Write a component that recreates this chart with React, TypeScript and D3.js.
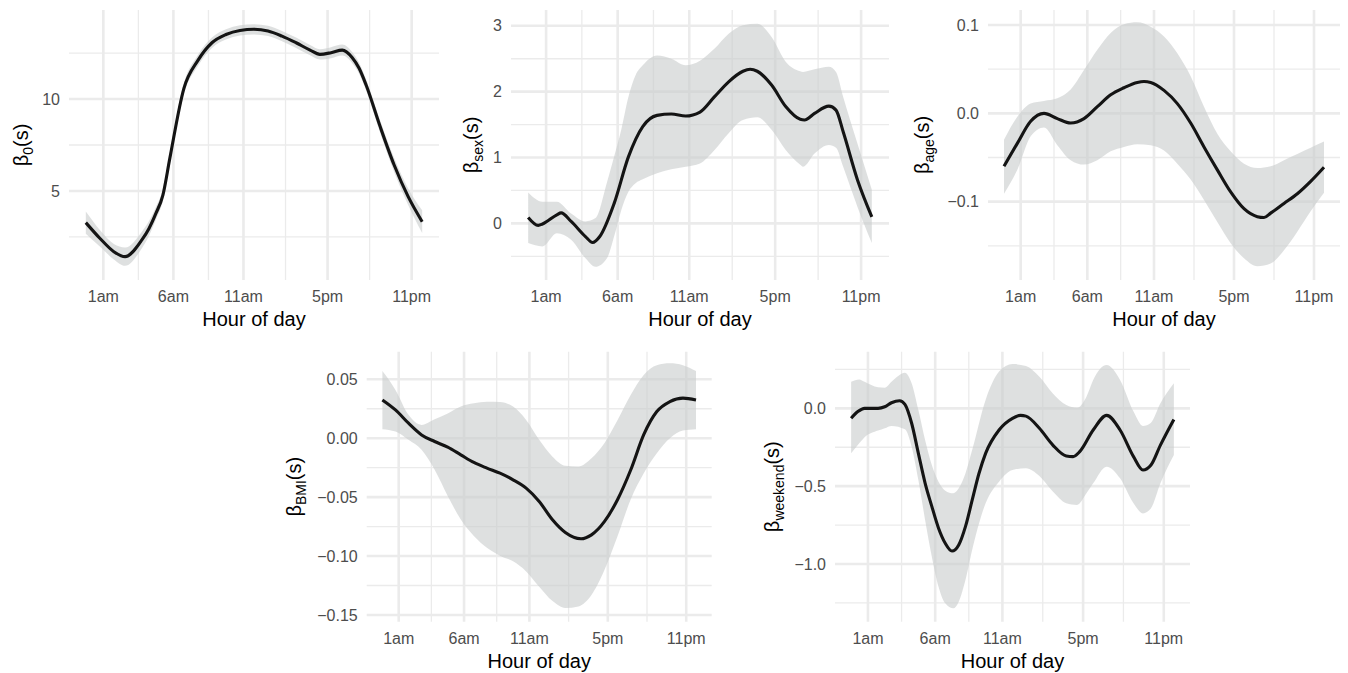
import React from 'react';
import * as d3 from 'd3';

// ---------- shared x axis ----------
const xDataRange = [0, 24];
const tickHours = [1.25, 6.25, 11.25, 17.25, 23.25];
const tickLabels = ['1am', '6am', '11am', '5pm', '11pm'];
const minorHours = [3.75, 8.75, 14.25, 20.25];
const xTitle = 'Hour of day';

// ---------- beta_0 ----------
const b0Hours = [0, 1, 2, 2.8, 4, 4.5, 5, 5.5, 6, 7, 8, 9, 10, 11, 12, 13, 14, 15, 16, 16.7, 17.5, 18.3, 19, 19.5, 20, 21, 22, 23, 24];
const b0Mean = [3.28, 2.43, 1.7, 1.43, 2.34, 2.95, 3.78, 4.78, 6.8, 10.58, 12.1, 13.06, 13.51, 13.73, 13.79, 13.7, 13.42, 13.06, 12.66, 12.43, 12.52, 12.66, 12.26, 11.67, 10.76, 8.5, 6.41, 4.69, 3.33];
const b0Upper = [3.88, 2.88, 2.12, 1.93, 2.79, 3.35, 4.13, 5.1, 7.1, 10.88, 12.4, 13.34, 13.79, 14.01, 14.07, 13.98, 13.7, 13.34, 12.94, 12.71, 12.82, 12.96, 12.56, 11.97, 11.06, 8.83, 6.79, 5.14, 3.95];
const b0Lower = [2.68, 1.98, 1.28, 0.93, 1.89, 2.55, 3.43, 4.46, 6.5, 10.28, 11.8, 12.78, 13.23, 13.45, 13.51, 13.42, 13.14, 12.78, 12.38, 12.15, 12.22, 12.36, 11.96, 11.37, 10.46, 8.17, 6.03, 4.24, 2.71];
const b0YDomain = [0.16, 14.84];
const b0YMajor = [5, 10];
const b0YLabels = ['5', '10'];
const b0YMinor = [2.5, 7.5, 12.5];

// ---------- beta_sex ----------
const sexHours = [0, 0.7, 1, 2, 2.3, 3, 4, 4.5, 5, 6, 7, 8, 9, 10, 11, 12, 13, 14, 15, 15.5, 16, 17, 18, 19, 19.3, 20, 21, 21.5, 22, 23, 24];
const sexMean = [0.09, -0.03, -0.01, 0.13, 0.16, 0.03, -0.2, -0.29, -0.2, 0.3, 1.01, 1.47, 1.64, 1.66, 1.63, 1.69, 1.92, 2.15, 2.31, 2.34, 2.31, 2.1, 1.77, 1.58, 1.57, 1.67, 1.78, 1.72, 1.39, 0.66, 0.1];
const sexBandHours = [0, 1, 2, 3, 4, 4.7, 5.5, 6, 6.5, 7, 7.5, 8, 9, 10, 11, 12, 13, 14, 15, 16, 17, 18, 19, 19.2, 20, 21, 21.5, 22, 23, 24];
const sexUpper = [0.47, 0.33, 0.33, 0.15, 0.03, 0.08, 0.62, 1.01, 1.42, 1.92, 2.25, 2.4, 2.55, 2.5, 2.4, 2.47, 2.65, 2.88, 3.01, 3.03, 2.83, 2.45, 2.31, 2.3, 2.34, 2.38, 2.3, 1.92, 1.21, 0.51];
const sexLower = [-0.3, -0.35, -0.15, -0.25, -0.53, -0.66, -0.53, -0.2, 0.2, 0.48, 0.61, 0.67, 0.76, 0.82, 0.86, 0.91, 1.11, 1.37, 1.57, 1.61, 1.42, 1.11, 0.89, 0.86, 1.06, 1.19, 1.15, 0.86, 0.25, -0.3];
const sexYDomain = [-0.86, 3.24];
const sexYMajor = [0, 1, 2, 3];
const sexYLabels = ['0', '1', '2', '3'];
const sexYMinor = [-0.5, 0.5, 1.5, 2.5];

// ---------- beta_age ----------
const ageHours = [0, 1, 2, 3, 4, 5, 6, 7, 8, 9, 10, 10.5, 11, 12, 13, 14, 15, 16, 17, 18, 19, 19.5, 20, 21, 22, 23, 24];
const ageMean = [-0.06, -0.034, -0.009, 0.0, -0.006, -0.011, -0.006, 0.0075, 0.021, 0.029, 0.035, 0.036, 0.035, 0.026, 0.011, -0.011, -0.038, -0.064, -0.089, -0.108, -0.117, -0.118, -0.113, -0.102, -0.091, -0.077, -0.061];
const ageBandHours = [0, 1, 2, 3, 4, 5, 6, 7, 8, 9, 10, 11, 12, 13, 14, 15, 16, 17, 18, 19, 20, 21, 22, 23, 24];
const ageUpper = [-0.03, -0.004, 0.011, 0.014, 0.017, 0.027, 0.049, 0.072, 0.091, 0.101, 0.103, 0.098, 0.087, 0.068, 0.042, 0.0075, -0.023, -0.043, -0.057, -0.062, -0.06, -0.053, -0.046, -0.039, -0.032];
const ageLower = [-0.091, -0.064, -0.026, -0.016, -0.036, -0.053, -0.058, -0.053, -0.043, -0.038, -0.035, -0.036, -0.042, -0.057, -0.075, -0.098, -0.123, -0.147, -0.164, -0.173, -0.17, -0.155, -0.134, -0.111, -0.09];
const ageYDomain = [-0.1887, 0.117];
const ageYMajor = [-0.1, 0, 0.1];
const ageYLabels = ['\u22120.1', '0.0', '0.1'];
const ageYMinor = [-0.15, -0.05, 0.05];

// ---------- beta_BMI ----------
const bmiHours = [0, 1, 2, 3, 4, 5, 6, 7, 8, 9, 10, 11, 12, 13, 14, 15.2, 16, 17, 18, 19, 20, 21, 22, 23, 24];
const bmiMean = [0.0325, 0.024, 0.0127, 0.0028, -0.0028, -0.0076, -0.0141, -0.0206, -0.0254, -0.0297, -0.0353, -0.0424, -0.0537, -0.069, -0.08, -0.0853, -0.082, -0.0706, -0.052, -0.027, 0.003, 0.0226, 0.031, 0.034, 0.0325];
const bmiBandHours = [0, 1, 2, 3, 4, 5, 6, 7, 8, 9, 10, 11, 12, 13, 14, 15, 16, 17, 18, 19, 20, 21, 22, 23, 24];
const bmiUpper = [0.057, 0.041, 0.0198, 0.0113, 0.016, 0.021, 0.027, 0.0297, 0.031, 0.0308, 0.0268, 0.0155, -0.0014, -0.0155, -0.0234, -0.024, -0.017, -0.004, 0.0155, 0.0367, 0.0537, 0.062, 0.0636, 0.062, 0.057];
const bmiLower = [0.0076, 0.0056, -0.0014, -0.0099, -0.0268, -0.049, -0.069, -0.083, -0.093, -0.0997, -0.1045, -0.113, -0.126, -0.138, -0.144, -0.1427, -0.133, -0.1116, -0.083, -0.052, -0.0297, -0.0127, 0.0, 0.0065, 0.0076];
const bmiYDomain = [-0.1557, 0.0734];
const bmiYMajor = [-0.15, -0.1, -0.05, 0, 0.05];
const bmiYLabels = ['\u22120.15', '\u22120.10', '\u22120.05', '0.00', '0.05'];
const bmiYMinor = [-0.125, -0.075, -0.025, 0.025];

// ---------- beta_weekend ----------
const wkHours = [0, 0.5, 1, 2, 2.5, 3, 3.6, 4, 4.5, 5, 5.5, 6, 6.5, 7, 7.5, 8, 8.5, 9, 9.5, 10, 11, 12, 12.6, 13, 14, 15, 16, 16.5, 17, 18, 19, 20, 21, 21.7, 22.3, 23, 24];
const wkMean = [-0.064, -0.021, 0.0, 0.0, 0.01, 0.036, 0.049, 0.025, -0.096, -0.289, -0.48, -0.63, -0.77, -0.867, -0.917, -0.878, -0.76, -0.59, -0.42, -0.289, -0.139, -0.064, -0.045, -0.05, -0.128, -0.236, -0.306, -0.31, -0.278, -0.139, -0.045, -0.139, -0.31, -0.396, -0.364, -0.236, -0.071];
const wkBandHours = [0, 0.6, 1, 2, 2.5, 3, 4, 4.5, 5, 5.5, 6, 6.5, 7, 7.6, 8, 8.5, 9, 10, 11, 12, 13, 14, 15, 16, 16.8, 17.5, 18, 19, 20, 21, 21.7, 22.3, 23, 24];
const wkUpper = [0.171, 0.186, 0.171, 0.135, 0.133, 0.171, 0.229, 0.161, -0.011, -0.203, -0.364, -0.471, -0.529, -0.546, -0.514, -0.418, -0.268, 0.054, 0.236, 0.285, 0.272, 0.203, 0.096, 0.021, 0.004, 0.075, 0.182, 0.278, 0.182, -0.021, -0.113, -0.092, 0.032, 0.161];
const wkLower = [-0.289, -0.225, -0.186, -0.143, -0.128, -0.113, -0.135, -0.246, -0.46, -0.717, -0.953, -1.146, -1.253, -1.285, -1.242, -1.103, -0.91, -0.61, -0.471, -0.396, -0.385, -0.435, -0.535, -0.61, -0.621, -0.546, -0.482, -0.375, -0.45, -0.61, -0.675, -0.642, -0.482, -0.3];
const wkYDomain = [-1.371, 0.364];
const wkYMajor = [-1, -0.5, 0];
const wkYLabels = ['\u22121.0', '\u22120.5', '0.0'];
const wkYMinor = [-1.25, -0.75, -0.25, 0.25];

const FONT = '"Liberation Sans", Arial, Helvetica, sans-serif';
const GRID = '#EBEBEB';

type PanelSpec = {
  sub: string;
  hours: number[];
  mean: number[];
  bandHours: number[];
  lower: number[];
  upper: number[];
  yDomain: number[];
  yMajor: number[];
  yLabels: string[];
  yMinor: number[];
  left: number;
  right: number;
  top: number;
  bottom: number;
  titleX: number;
};

const panels: PanelSpec[] = [
  { sub: '0', hours: b0Hours, mean: b0Mean, bandHours: b0Hours, lower: b0Lower, upper: b0Upper, yDomain: b0YDomain, yMajor: b0YMajor, yLabels: b0YLabels, yMinor: b0YMinor, left: 69, right: 439, top: 10, bottom: 280, titleX: 28 },
  { sub: 'sex', hours: sexHours, mean: sexMean, bandHours: sexBandHours, lower: sexLower, upper: sexUpper, yDomain: sexYDomain, yMajor: sexYMajor, yLabels: sexYLabels, yMinor: sexYMinor, left: 511, right: 889, top: 10, bottom: 280, titleX: 477.5 },
  { sub: 'age', hours: ageHours, mean: ageMean, bandHours: ageBandHours, lower: ageLower, upper: ageUpper, yDomain: ageYDomain, yMajor: ageYMajor, yLabels: ageYLabels, yMinor: ageYMinor, left: 988, right: 1340, top: 10, bottom: 280, titleX: 929 },
  { sub: 'BMI', hours: bmiHours, mean: bmiMean, bandHours: bmiBandHours, lower: bmiLower, upper: bmiUpper, yDomain: bmiYDomain, yMajor: bmiYMajor, yLabels: bmiYLabels, yMinor: bmiYMinor, left: 366.7, right: 711.7, top: 351.7, bottom: 621.7, titleX: 301 },
  { sub: 'weekend', hours: wkHours, mean: wkMean, bandHours: wkBandHours, lower: wkLower, upper: wkUpper, yDomain: wkYDomain, yMajor: wkYMajor, yLabels: wkYLabels, yMinor: wkYMinor, left: 835, right: 1190, top: 351.7, bottom: 621.7, titleX: 778.5 },
];

function Panel({ p }: { p: PanelSpec }) {
  const span = xDataRange[1] - xDataRange[0];
  const x = d3
    .scaleLinear()
    .domain([xDataRange[0] - 0.05 * span, xDataRange[1] + 0.05 * span])
    .range([p.left, p.right]);
  const y = d3.scaleLinear().domain(p.yDomain).range([p.bottom, p.top]);

  const band = d3
    .area<number>()
    .x((h) => x(h))
    .y0((_, i) => y(p.lower[i]))
    .y1((_, i) => y(p.upper[i]))
    .curve(d3.curveMonotoneX);
  const line = d3
    .line<number>()
    .x((h) => x(h))
    .y((_, i) => y(p.mean[i]))
    .curve(d3.curveMonotoneX);

  const cy = (p.top + p.bottom) / 2;
  const cx = (p.left + p.right) / 2;

  return (
    <g>
      {p.yMinor.map((v) => (
        <line key={'ym' + v} x1={p.left} x2={p.right} y1={y(v)} y2={y(v)} stroke={GRID} strokeWidth={1.3} />
      ))}
      {minorHours.map((h) => (
        <line key={'xm' + h} x1={x(h)} x2={x(h)} y1={p.top} y2={p.bottom} stroke={GRID} strokeWidth={1.3} />
      ))}
      {p.yMajor.map((v) => (
        <line key={'yM' + v} x1={p.left} x2={p.right} y1={y(v)} y2={y(v)} stroke={GRID} strokeWidth={2.6} />
      ))}
      {tickHours.map((h) => (
        <line key={'xM' + h} x1={x(h)} x2={x(h)} y1={p.top} y2={p.bottom} stroke={GRID} strokeWidth={2.6} />
      ))}
      <path d={band(p.bandHours) || ''} fill="#C8CBCB" fillOpacity={0.6} stroke="none" />
      <path d={line(p.hours) || ''} fill="none" stroke="#141414" strokeWidth={3.1} strokeLinejoin="round" strokeLinecap="butt" />
      {p.yMajor.map((v, i) => (
        <text key={'yl' + v} x={p.left - 9} y={y(v)} dy="0.35em" textAnchor="end" fontSize={16} fill="#4D4D4D" fontFamily={FONT}>
          {p.yLabels[i]}
        </text>
      ))}
      {tickHours.map((h, i) => (
        <text key={'xl' + h} x={x(h)} y={p.bottom + 22} textAnchor="middle" fontSize={16} fill="#4D4D4D" fontFamily={FONT}>
          {tickLabels[i]}
        </text>
      ))}
      <text x={cx} y={p.bottom + 46} textAnchor="middle" fontSize={20} fill="#000" fontFamily={FONT}>
        {xTitle}
      </text>
      <text
        transform={`translate(${p.titleX},${cy}) rotate(-90)`}
        textAnchor="middle"
        fontSize={20}
        fill="#000"
        fontFamily={FONT}
      >
        <tspan>β</tspan>
        <tspan fontSize={14} dy={5}>{p.sub}</tspan>
        <tspan dy={-5}>(s)</tspan>
      </text>
    </g>
  );
}

export default function App() {
  return (
    <svg
      width={1348}
      height={673}
      style={{ position: 'absolute', left: 0, top: 0, background: '#fff' }}
    >
      <rect x={0} y={0} width={1348} height={673} fill="#fff" />
      {panels.map((p) => (
        <Panel key={p.sub} p={p} />
      ))}
    </svg>
  );
}
